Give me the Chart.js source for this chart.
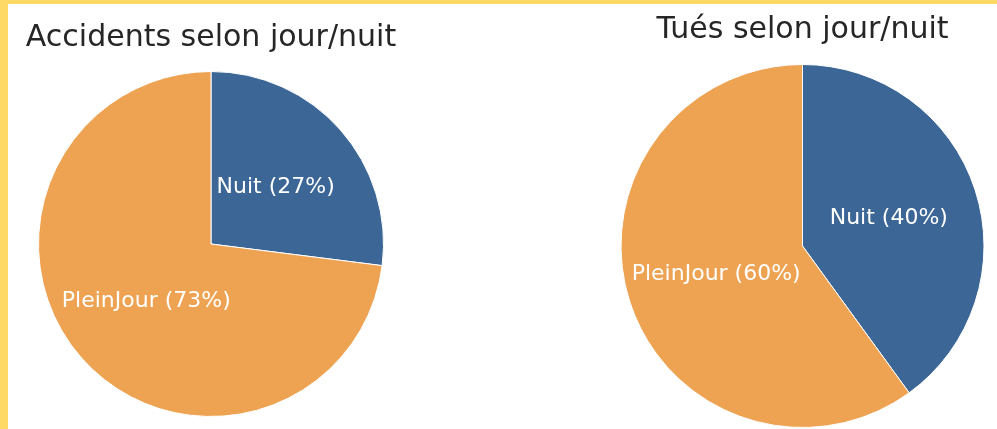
<!DOCTYPE html>
<html>
<head>
<meta charset="utf-8">
<script src="https://cdn.jsdelivr.net/npm/chart.js@4.4.0/dist/chart.umd.min.js"></script>
<style>
    html, body { margin: 0; padding: 0; }
    body {
        width: 997px;
        height: 429px;
        overflow: hidden;
        position: relative;
        background: #ffffff;
    }
    .frame-left { position: absolute; left: 0; top: 0; width: 8px; height: 429px; background: #ffd966; }
    .frame-top { position: absolute; left: 0; top: 0; width: 997px; height: 4px; background: #ffd966; }
    #accidents-chart { position: absolute; left: 8px; top: 4px; }
    #tues-chart { position: absolute; left: 613px; top: 4px; }
</style>
</head>
<body>
<div class="frame-left"></div>
<div class="frame-top"></div>
<canvas id="accidents-chart" width="406" height="425"></canvas>
<canvas id="tues-chart" width="379" height="440"></canvas>

<script>
const categories = ['Nuit', 'PleinJour'];
const accidentsPct = [27, 73];
const tuesPct = [40, 60];
const sliceColors = ['#3b6696', '#eea353'];

// draws "Nuit (27%)" style labels inside each slice, at half the radius
const sliceLabels = {
    id: 'sliceLabels',
    afterDatasetsDraw(chart) {
        const ctx = chart.ctx;
        const meta = chart.getDatasetMeta(0);
        const values = chart.data.datasets[0].data;
        ctx.save();
        ctx.font = '22px "DejaVu Sans"';
        ctx.fillStyle = '#ffffff';
        ctx.textAlign = 'center';
        ctx.textBaseline = 'middle';
        meta.data.forEach((arc, i) => {
            const p = arc.getProps(['x', 'y', 'startAngle', 'endAngle', 'outerRadius'], true);
            const mid = (p.startAngle + p.endAngle) / 2;
            const r = p.outerRadius * 0.5;
            const text = chart.data.labels[i] + ' (' + values[i] + '%)';
            ctx.fillText(text, p.x + Math.cos(mid) * r, p.y + Math.sin(mid) * r);
        });
        ctx.restore();
    }
};

function makePie(canvasId, title, values, padding, titlePadding) {
    const ctx = document.getElementById(canvasId).getContext('2d');
    return new Chart(ctx, {
        type: 'pie',
        data: {
            labels: categories,
            datasets: [{
                data: values,
                backgroundColor: sliceColors,
                borderColor: '#ffffff',
                borderWidth: 1
            }]
        },
        options: {
            responsive: false,
            animation: false,
            layout: { padding: padding },
            plugins: {
                legend: { display: false },
                tooltip: { enabled: false },
                title: {
                    display: true,
                    text: title,
                    color: '#262626',
                    font: { family: '"DejaVu Sans"', size: 30, weight: 'normal' },
                    padding: titlePadding
                }
            }
        },
        plugins: [sliceLabels]
    });
}

Chart.defaults.font.family = '"DejaVu Sans"';

makePie('accidents-chart', 'Accidents selon jour/nuit', accidentsPct,
    { top: 16, bottom: 12, left: 0, right: 0 }, { top: 0, bottom: 15 });
makePie('tues-chart', 'Tués selon jour/nuit', tuesPct,
    { top: 8, bottom: 16, left: 0, right: 0 }, { top: 0, bottom: 16 });
</script>
</body>
</html>
